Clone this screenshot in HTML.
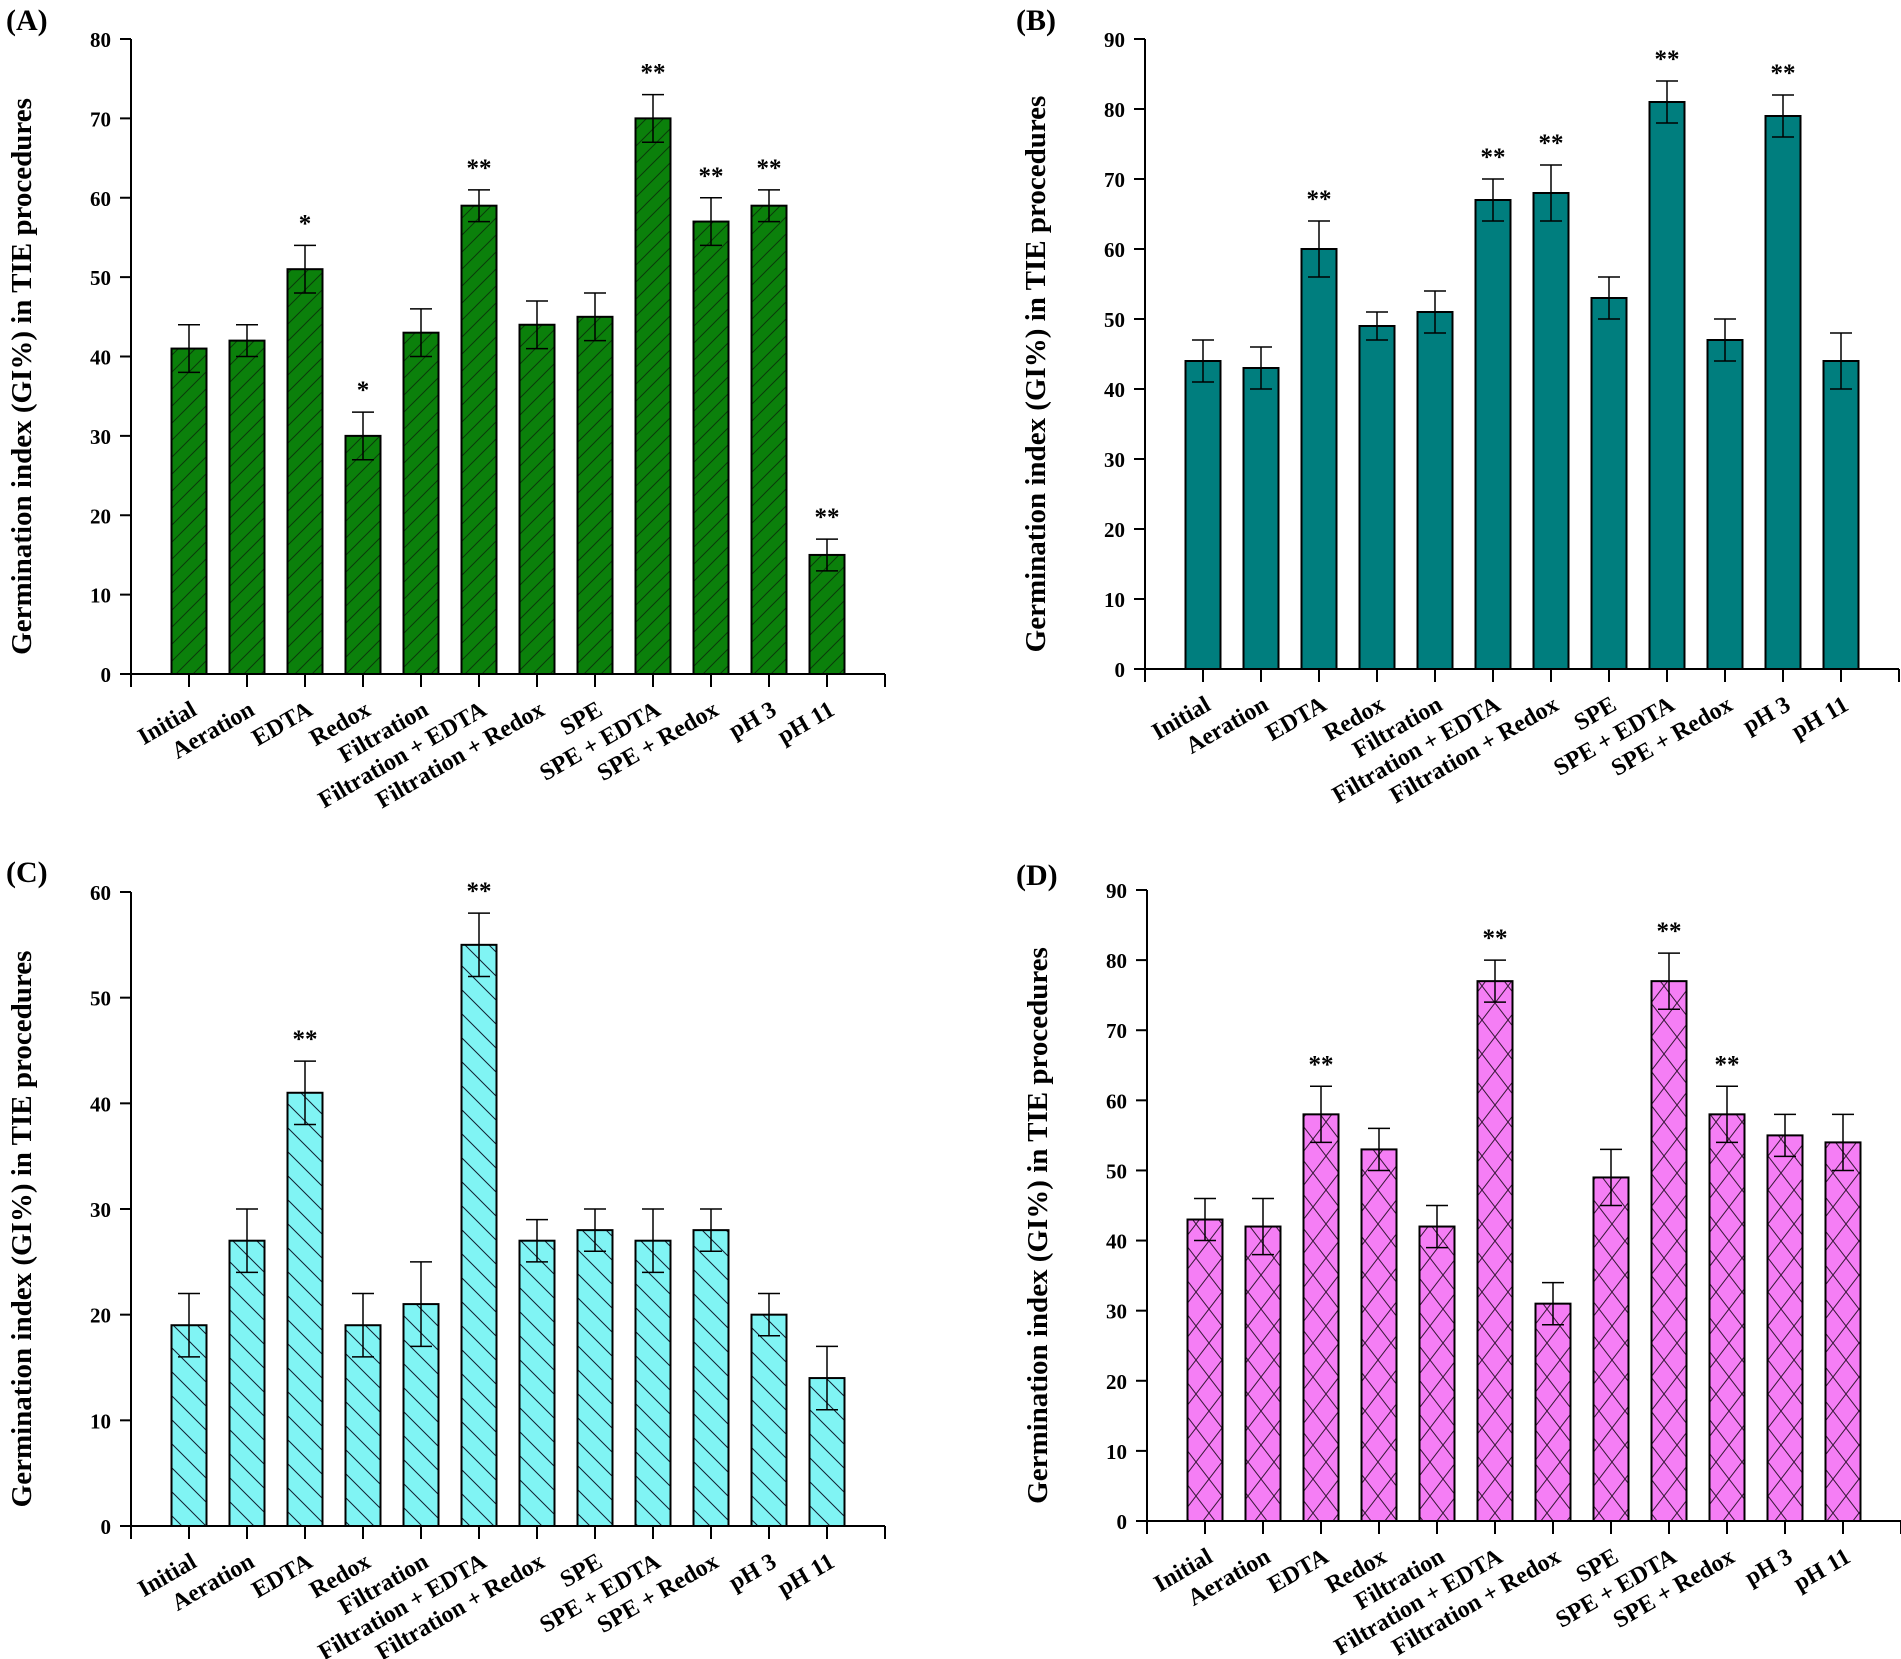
<!DOCTYPE html>
<html><head><meta charset="utf-8"><style>
html,body{margin:0;padding:0;background:#fff}
svg{display:block}
text{font-family:"Liberation Serif",serif;font-weight:bold;fill:#000}
</style></head><body>
<svg id="fig" width="1901" height="1659" viewBox="0 0 1901 1659" xmlns="http://www.w3.org/2000/svg">
<defs>
<pattern id="hatchA" patternUnits="userSpaceOnUse" width="17" height="17"><rect width="17" height="17" fill="#0b800b"/><path d="M-2,19 L19,-2 M-4,4 L4,-4 M13,21 L21,13" stroke="#0a3a0a" stroke-width="1"/></pattern>
<pattern id="hatchC" patternUnits="userSpaceOnUse" width="24" height="24"><rect width="24" height="24" fill="#80f4f4"/><path d="M-2,-2 L26,26 M-14,10 L14,38 M10,-14 L38,14" stroke="#123" stroke-width="1"/></pattern>
<pattern id="hatchD" patternUnits="userSpaceOnUse" width="26" height="34"><rect width="26" height="34" fill="#f57ef5"/><path d="M0,0 L26,34 M26,0 L0,34" stroke="#3a1a3a" stroke-width="1"/></pattern>
</defs>
</svg>
<script>
const categories = ["Initial","Aeration","EDTA","Redox","Filtration","Filtration + EDTA","Filtration + Redox","SPE","SPE + EDTA","SPE + Redox","pH 3","pH 11"];
const valuesA = [41,42,51,30,43,59,44,45,70,57,59,15];
const errorsA = [3,2,3,3,3,2,3,3,3,3,2,2];
const starsA = ["","","*","*","","**","","","**","**","**","**"];
const valuesB = [44,43,60,49,51,67,68,53,81,47,79,44];
const errorsB = [3,3,4,2,3,3,4,3,3,3,3,4];
const starsB = ["","","**","","","**","**","","**","","**",""];
const valuesC = [19,27,41,19,21,55,27,28,27,28,20,14];
const errorsC = [3,3,3,3,4,3,2,2,3,2,2,3];
const starsC = ["","","**","","","**","","","","","",""];
const valuesD = [43,42,58,53,42,77,31,49,77,58,55,54];
const errorsD = [3,4,4,3,3,3,3,4,4,4,3,4];
const starsD = ["","","**","","","**","","","**","**","",""];
const ticksA = [0,10,20,30,40,50,60,70,80];
const ticksB = [0,10,20,30,40,50,60,70,80,90];
const ticksC = [0,10,20,30,40,50,60];
const ticksD = [0,10,20,30,40,50,60,70,80,90];

const NS="http://www.w3.org/2000/svg";
const svg=document.getElementById('fig');
function mk(tag,attrs,parent){const e=document.createElementNS(NS,tag);for(const k in attrs)e.setAttribute(k,attrs[k]);(parent||svg).appendChild(e);return e;}

function panel(letter,ax,zeroY,topY,ticks,vals,errs,stars,fill,lx,ly){
  const g=mk('g',{});
  
  
  const maxV=ticks[ticks.length-1];
  const y=v=>zeroY-(v/maxV)*(zeroY-topY);
  const slot=58;
  const x=i=>ax+slot*(i+1);
  const endX=ax+slot*13;
  const lab=mk('text',{x:lx,y:ly,'font-size':30},g);lab.textContent='('+letter+')';
  
  
  vals.forEach((v,i)=>{
    const r=mk('rect',{x:x(i)-17.5,y:y(v),width:35,height:zeroY-y(v),fill:fill,stroke:'#000','stroke-width':2},g);
    
    
    const e=errs[i];
    const eb=mk('path',{d:`M${x(i)},${y(v+e)} V${y(v-e)} M${x(i)-11},${y(v+e)} H${x(i)+11} M${x(i)-11},${y(v-e)} H${x(i)+11}`,stroke:'#000','stroke-width':1.5,fill:'none'},g);
    
    
    if(stars[i]){
      const s=mk('text',{x:x(i),y:y(v+e)-14,'font-size':25,'text-anchor':'middle','font-weight':'normal'},g);
      s.textContent=stars[i];
      
      
    }
  });
  const axes=mk('path',{d:`M${ax},${topY} V${zeroY+13} M${ax},${zeroY} H${endX} M${endX},${zeroY} V${zeroY+13}`,stroke:'#000','stroke-width':2,fill:'none'},g);
  
  
  ticks.forEach(t=>{
    mk('path',{d:`M${ax-11},${y(t)} H${ax}`,stroke:'#000','stroke-width':2},g);
    const tl=mk('text',{x:ax-20,y:y(t)+8,'font-size':21,'text-anchor':'end'},g);
    tl.textContent=t;
    
    
  });
  categories.forEach((c,i)=>{
    mk('path',{d:`M${x(i)},${zeroY} V${zeroY+13}`,stroke:'#000','stroke-width':2},g);
    const px=x(i)+9, py=zeroY+40;
    const t=mk('text',{x:px,y:py,'font-size':24,'text-anchor':'end',transform:`rotate(-30 ${px} ${py})`},g);
    t.textContent=c;
    
    
  });
  const cy=(zeroY+topY)/2+20, tx=ax-100;
  const yt=mk('text',{x:tx,y:cy,'font-size':29,'text-anchor':'middle',transform:`rotate(-90 ${tx} ${cy})`},g);
  yt.textContent='Germination index (GI%) in TIE procedures';
  
  
}
panel('A',131,674,39,ticksA,valuesA,errorsA,starsA,'url(#hatchA)',6,30);
panel('B',1145,669,39,ticksB,valuesB,errorsB,starsB,'#007e7e',1016,30);
panel('C',131,1526,892,ticksC,valuesC,errorsC,starsC,'url(#hatchC)',6,882);
panel('D',1147,1521,890,ticksD,valuesD,errorsD,starsD,'url(#hatchD)',1016,885);
</script>
</body></html>
